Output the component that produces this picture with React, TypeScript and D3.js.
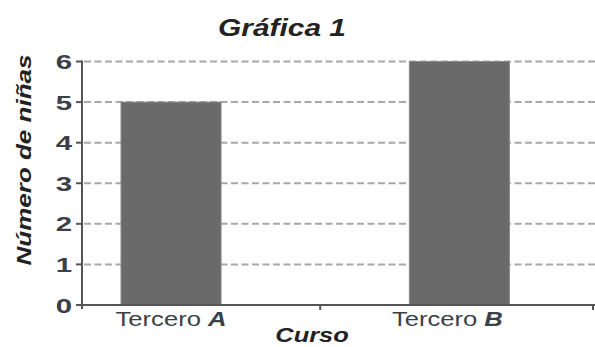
import React from "react";
import * as d3 from "d3";

const categories = ["Tercero A", "Tercero B"];
const categoryLetters = ["A", "B"];
const values = [5, 6];
const yTicks = [0, 1, 2, 3, 4, 5, 6];
const title = "Gráfica 1";
const yLabel = "Número de niñas";
const xLabel = "Curso";

const W = 595;
const H = 347;
const FONT = "'Liberation Sans', Arial, sans-serif";
const SX = 1.3;

function WideText(props: {
  x: number;
  y: number;
  sx?: number;
  rotate?: number;
  children: React.ReactNode;
  [k: string]: any;
}) {
  const { x, y, sx = SX, rotate = 0, children, ...rest } = props;
  return (
    <text
      transform={`translate(${x},${y}) rotate(${rotate}) scale(${sx},1)`}
      fontFamily={FONT}
      {...rest}
    >
      {children}
    </text>
  );
}

export default function App() {
  const axisX = 82;
  const y = d3.scaleLinear().domain([0, 6]).range([305, 61.5]);
  const x = d3
    .scaleBand<string>()
    .domain(categories)
    .range([axisX, W])
    .paddingInner(0.653)
    .paddingOuter(0.216)
    .align(0.313);

  const bw = x.bandwidth();
  const gapMid = (x(categories[0])! + bw + x(categories[1])!) / 2 + 5;

  return (
    <svg
      width={W}
      height={H}
      style={{ position: "absolute", left: 0, top: 0, background: "#fff" }}
    >
      {/* gridlines */}
      {yTicks
        .filter((t) => t > 0)
        .map((t) => (
          <line
            key={"g" + t}
            x1={axisX + 2}
            x2={W}
            y1={y(t)}
            y2={y(t)}
            stroke="#a8a8a8"
            strokeWidth={2}
            strokeDasharray="7 3.5"
          />
        ))}
      {/* bars */}
      {categories.map((c, i) => (
        <rect
          key={c}
          x={x(c)!}
          y={y(values[i])}
          width={bw}
          height={y(0) - y(values[i])}
          fill="#6a6a6a"
          stroke="#8a8a8a"
          strokeWidth={1}
        />
      ))}
      {/* y axis */}
      <line x1={axisX} x2={axisX} y1={y(6) - 1} y2={y(0) + 4} stroke="#555" strokeWidth={2} />
      {yTicks.map((t) => (
        <g key={"t" + t}>
          <line x1={axisX - 6} x2={axisX} y1={y(t)} y2={y(t)} stroke="#555" strokeWidth={2} />
          <WideText
            x={axisX - 10}
            y={y(t) + 7.5}
            sx={1.4}
            textAnchor="end"
            fontSize={21}
            fontWeight="bold"
            fill="#3a3f48"
          >
            {t}
          </WideText>
        </g>
      ))}
      {/* x axis */}
      <line x1={axisX - 6} x2={W} y1={y(0)} y2={y(0)} stroke="#555" strokeWidth={2} />
      <line x1={gapMid} x2={gapMid} y1={y(0)} y2={y(0) + 5} stroke="#555" strokeWidth={2} />
      <line x1={W - 2} x2={W - 2} y1={y(0)} y2={y(0) + 5} stroke="#555" strokeWidth={2} />
      {categories.map((c, i) => {
        const cx = x(c)! + bw / 2 - i * 12;
        return (
          <WideText
            key={"xl" + c}
            x={cx}
            y={326}
            sx={1.28}
            textAnchor="middle"
            fontSize={20}
            fill="#3a3f48"
          >
            {c.replace(/ [A-Z]$/, " ")}
            <tspan fontWeight="bold" fontStyle="italic">
              {categoryLetters[i]}
            </tspan>
          </WideText>
        );
      })}
      {/* title */}
      <WideText
        x={282}
        y={36}
        sx={1.3}
        textAnchor="middle"
        fontSize={23}
        fontWeight="bold"
        fontStyle="italic"
        fill="#222"
      >
        {title}
      </WideText>
      {/* axis titles */}
      <WideText
        x={312}
        y={342}
        sx={1.27}
        textAnchor="middle"
        fontSize={20}
        fontWeight="bold"
        fontStyle="italic"
        fill="#222"
      >
        {xLabel}
      </WideText>
      <WideText
        x={31}
        y={160}
        rotate={-90}
        sx={1.3}
        textAnchor="middle"
        fontSize={20}
        fontWeight="bold"
        fontStyle="italic"
        fill="#222"
      >
        {yLabel}
      </WideText>
    </svg>
  );
}
